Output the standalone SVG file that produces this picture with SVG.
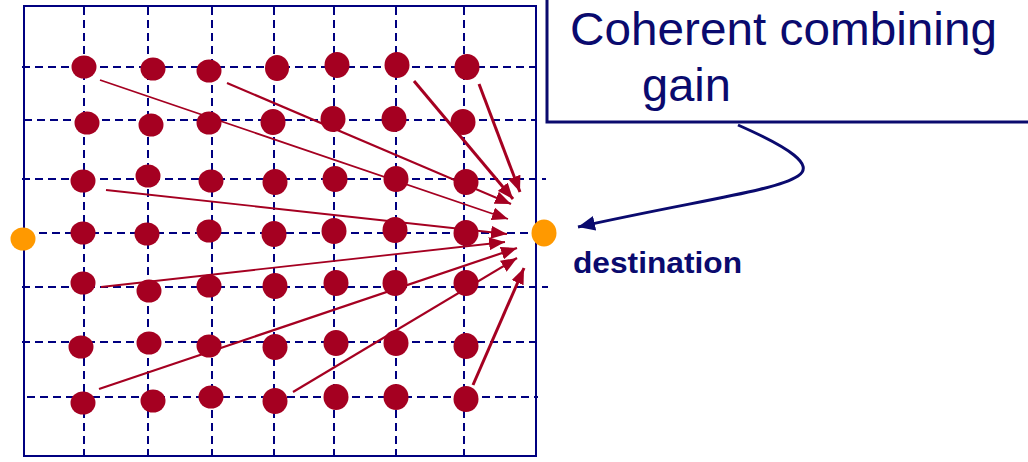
<svg xmlns="http://www.w3.org/2000/svg" width="1028" height="462" viewBox="0 0 1028 462">
<style>
.grid{stroke:#000080;stroke-width:2;stroke-dasharray:8 5;fill:none}
.frame{stroke:#000080;stroke-width:2;fill:none}
.dot{fill:#A50021}
.src{fill:#FF9900}
.ray{stroke:#A50021;fill:none;marker-end:url(#ah)}
.lbl{font-family:"Liberation Sans",Arial,sans-serif;fill:#0A0A6E}
</style>
<defs>
<marker id="ah" viewBox="0 0 16 13" refX="16" refY="6.5" markerWidth="16" markerHeight="13" markerUnits="userSpaceOnUse" orient="auto">
<path d="M0,0 L16,6.5 L0,13 z" fill="#A50021"/>
</marker>
<marker id="ahb" viewBox="0 0 17 15" refX="17" refY="7.5" markerWidth="17" markerHeight="15" markerUnits="userSpaceOnUse" orient="auto">
<path d="M0,0 L17,7.5 L0,15 z" fill="#0A0A6E"/>
</marker>
</defs>

<g id="grid">
<rect class="frame" x="24" y="6" width="512" height="450"/>
<line class="grid" x1="84" y1="7" x2="84" y2="462"/>
<line class="grid" x1="148" y1="7" x2="148" y2="462"/>
<line class="grid" x1="212" y1="7" x2="212" y2="462"/>
<line class="grid" x1="274" y1="7" x2="274" y2="462"/>
<line class="grid" x1="334" y1="7" x2="334" y2="462"/>
<line class="grid" x1="396" y1="7" x2="396" y2="462"/>
<line class="grid" x1="464" y1="7" x2="464" y2="462"/>
<line class="grid" x1="22" y1="67" x2="541" y2="67"/>
<line class="grid" x1="24" y1="120" x2="536" y2="120"/>
<line class="grid" x1="22" y1="179" x2="546" y2="179"/>
<line class="grid" x1="39" y1="233" x2="532" y2="233"/>
<line class="grid" x1="22" y1="287" x2="548" y2="287"/>
<line class="grid" x1="22" y1="342" x2="541" y2="342"/>
<line class="grid" x1="27" y1="397" x2="538" y2="397"/>
</g>

<g id="connectors">
<line class="ray" stroke-width="1.8" x1="100" y1="80" x2="508" y2="219"/>
<line class="ray" stroke-width="2.2" x1="227" y1="83" x2="511" y2="204"/>
<line class="ray" stroke-width="3" x1="414" y1="81" x2="513" y2="199"/>
<line class="ray" stroke-width="3" x1="479" y1="84" x2="520" y2="192"/>
<line class="ray" stroke-width="1.8" x1="106" y1="190" x2="507" y2="234"/>
<line class="ray" stroke-width="1.8" x1="101" y1="287" x2="505" y2="242"/>
<line class="ray" stroke-width="2.2" x1="99" y1="389" x2="517" y2="248"/>
<line class="ray" stroke-width="2.2" x1="293" y1="392" x2="517" y2="258"/>
<line class="ray" stroke-width="3" x1="473" y1="385" x2="524" y2="268"/>
<path d="M738,125 C790,148 815,165 798,176 C775,191 700,200 578,227" fill="none" stroke="#0A0A6E" stroke-width="3" marker-end="url(#ahb)"/>
</g>

<g id="relays">
<g id="r1c1"><ellipse class="dot" cx="84" cy="67" rx="12.5" ry="11.5"/></g>
<g id="r1c2"><ellipse class="dot" cx="153" cy="69" rx="12.5" ry="11.5"/></g>
<g id="r1c3"><ellipse class="dot" cx="209" cy="71" rx="12.5" ry="11.5"/></g>
<g id="r1c4"><ellipse class="dot" cx="277" cy="68" rx="12" ry="13"/></g>
<g id="r1c5"><ellipse class="dot" cx="337" cy="65" rx="12.5" ry="13"/></g>
<g id="r1c6"><ellipse class="dot" cx="397" cy="65" rx="12.5" ry="13"/></g>
<g id="r1c7"><ellipse class="dot" cx="467" cy="67" rx="12.5" ry="13"/></g>
<g id="r2c1"><ellipse class="dot" cx="87" cy="123" rx="12.5" ry="11.5"/></g>
<g id="r2c2"><ellipse class="dot" cx="151" cy="125" rx="12.5" ry="11.5"/></g>
<g id="r2c3"><ellipse class="dot" cx="209" cy="123" rx="12.5" ry="11.5"/></g>
<g id="r2c4"><ellipse class="dot" cx="273" cy="122" rx="12.5" ry="13"/></g>
<g id="r2c5"><ellipse class="dot" cx="333" cy="119" rx="12.5" ry="13"/></g>
<g id="r2c6"><ellipse class="dot" cx="394" cy="119" rx="12.5" ry="13"/></g>
<g id="r2c7"><ellipse class="dot" cx="463" cy="122" rx="12.5" ry="13"/></g>
<g id="r3c1"><ellipse class="dot" cx="83" cy="181" rx="12.5" ry="11.5"/></g>
<g id="r3c2"><ellipse class="dot" cx="148" cy="176" rx="12.5" ry="11.5"/></g>
<g id="r3c3"><ellipse class="dot" cx="211" cy="181" rx="12.5" ry="11.5"/></g>
<g id="r3c4"><ellipse class="dot" cx="275" cy="182" rx="12.5" ry="13"/></g>
<g id="r3c5"><ellipse class="dot" cx="335" cy="179" rx="12.5" ry="13"/></g>
<g id="r3c6"><ellipse class="dot" cx="396" cy="179" rx="12.5" ry="13"/></g>
<g id="r3c7"><ellipse class="dot" cx="466" cy="182" rx="12.5" ry="13"/></g>
<g id="r4c1"><ellipse class="dot" cx="83" cy="233" rx="12.5" ry="11.5"/></g>
<g id="r4c2"><ellipse class="dot" cx="147" cy="234" rx="12.5" ry="11.5"/></g>
<g id="r4c3"><ellipse class="dot" cx="209" cy="231" rx="12.5" ry="11.5"/></g>
<g id="r4c4"><ellipse class="dot" cx="274" cy="234" rx="12.5" ry="13"/></g>
<g id="r4c5"><ellipse class="dot" cx="334" cy="231" rx="12.5" ry="13"/></g>
<g id="r4c6"><ellipse class="dot" cx="395" cy="230" rx="12.5" ry="13"/></g>
<g id="r4c7"><ellipse class="dot" cx="466" cy="233" rx="12.5" ry="13"/></g>
<g id="r5c1"><ellipse class="dot" cx="83" cy="283" rx="12.5" ry="11.5"/></g>
<g id="r5c2"><ellipse class="dot" cx="149" cy="291" rx="12.5" ry="11.5"/></g>
<g id="r5c3"><ellipse class="dot" cx="209" cy="286" rx="12.5" ry="11.5"/></g>
<g id="r5c4"><ellipse class="dot" cx="275" cy="286" rx="12.5" ry="13"/></g>
<g id="r5c5"><ellipse class="dot" cx="336" cy="283" rx="12.5" ry="13"/></g>
<g id="r5c6"><ellipse class="dot" cx="395" cy="283" rx="12.5" ry="13"/></g>
<g id="r5c7"><ellipse class="dot" cx="466" cy="283" rx="12.5" ry="13"/></g>
<g id="r6c1"><ellipse class="dot" cx="81" cy="347" rx="12.5" ry="11.5"/></g>
<g id="r6c2"><ellipse class="dot" cx="149" cy="343" rx="12.5" ry="11.5"/></g>
<g id="r6c3"><ellipse class="dot" cx="209" cy="346" rx="12.5" ry="11.5"/></g>
<g id="r6c4"><ellipse class="dot" cx="275" cy="347" rx="12.5" ry="13"/></g>
<g id="r6c5"><ellipse class="dot" cx="336" cy="343" rx="12.5" ry="13"/></g>
<g id="r6c6"><ellipse class="dot" cx="396" cy="343" rx="12.5" ry="13"/></g>
<g id="r6c7"><ellipse class="dot" cx="466" cy="346" rx="12.5" ry="13"/></g>
<g id="r7c1"><ellipse class="dot" cx="83" cy="403" rx="12.5" ry="11.5"/></g>
<g id="r7c2"><ellipse class="dot" cx="153" cy="401" rx="12.5" ry="11.5"/></g>
<g id="r7c3"><ellipse class="dot" cx="211" cy="397" rx="12.5" ry="11.5"/></g>
<g id="r7c4"><ellipse class="dot" cx="275" cy="401" rx="12.5" ry="13"/></g>
<g id="r7c5"><ellipse class="dot" cx="336" cy="397" rx="12.5" ry="13"/></g>
<g id="r7c6"><ellipse class="dot" cx="396" cy="397" rx="12.5" ry="13"/></g>
<g id="r7c7"><ellipse class="dot" cx="466" cy="399" rx="12.5" ry="13"/></g>
</g>

<g id="source"><ellipse class="src" cx="23" cy="239" rx="12.5" ry="11.5"/></g>
<g id="destination"><ellipse class="src" cx="544" cy="233" rx="12.5" ry="13.5"/>
<text class="lbl" x="573" y="273" font-size="29" font-weight="bold" textLength="169" lengthAdjust="spacingAndGlyphs">destination</text></g>

<g id="callout">
<rect x="547" y="-10" width="500" height="132" fill="#FFFFFF" stroke="#0A0A6E" stroke-width="3"/>
<text class="lbl" x="570" y="45" font-size="47" textLength="427" lengthAdjust="spacingAndGlyphs">Coherent combining</text>
<text class="lbl" x="642" y="101" font-size="47">gain</text>
</g>
</svg>
